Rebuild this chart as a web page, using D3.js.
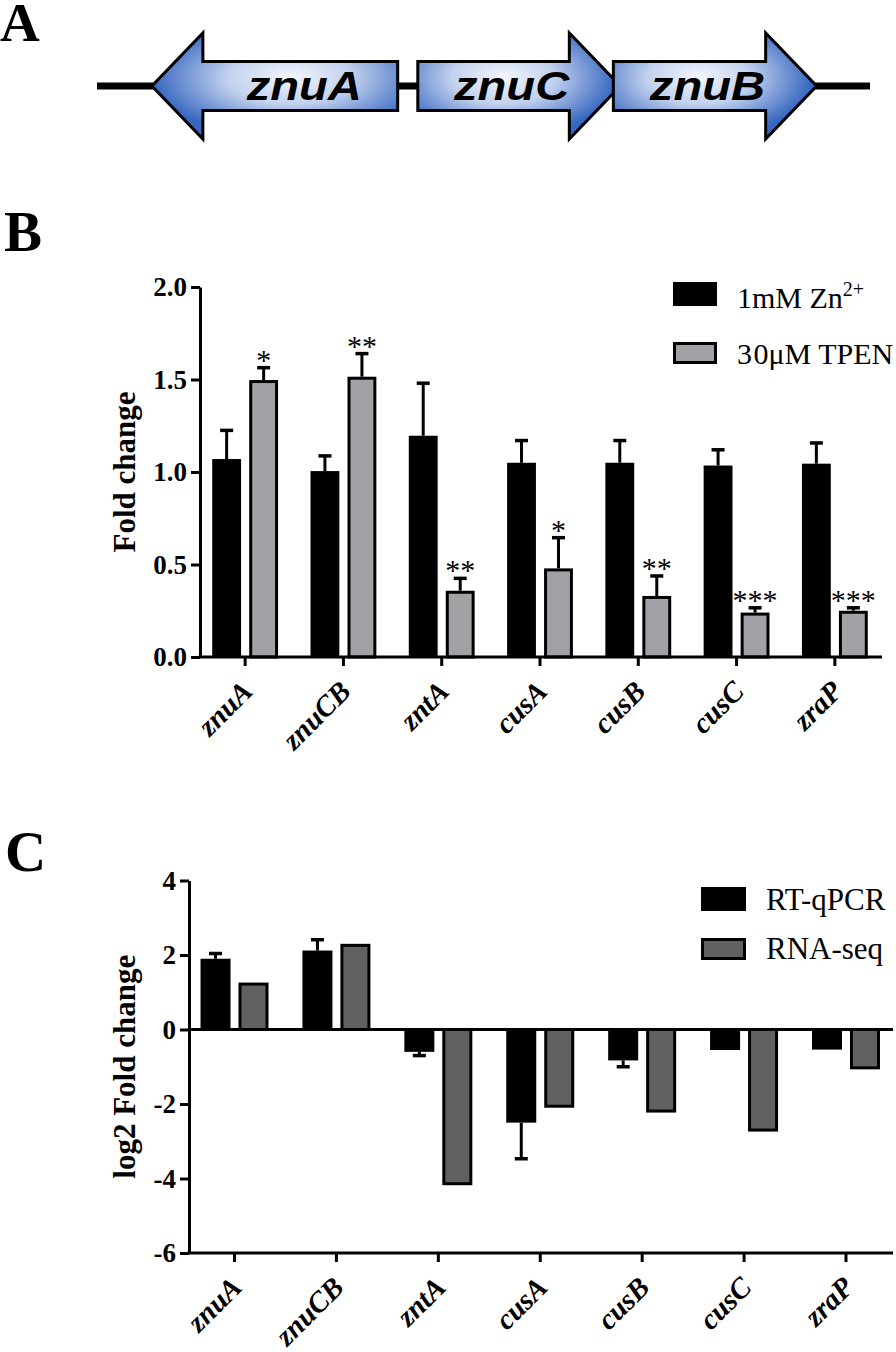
<!DOCTYPE html>
<html><head><meta charset="utf-8">
<script src="https://cdn.jsdelivr.net/npm/d3@7"></script>
<style>
body{margin:0;background:#fff;overflow:hidden}
svg{display:block}
</style>
</head><body>
<svg id="chart" width="896" height="1352"></svg>
<script>
// ---------- Panel A : gene organisation ----------
const geneNames  = ["znuA", "znuC", "znuB"];
const geneStart  = [71, 415, 668];     // locus units
const geneEnd    = [389, 677, 931];
const geneStrand = [-1, 1, 1];
const locusExtent = [0, 1000];

// ---------- Panel B : fold change ----------
const categories = ["znuA", "znuCB", "zntA", "cusA", "cusB", "cusC", "zraP"];
const znMean   = [1.07, 1.005, 1.196, 1.05, 1.05, 1.035, 1.045];
const znErr    = [0.155, 0.082, 0.284, 0.12, 0.12, 0.085, 0.112];
const tpenMean = [1.497, 1.515, 0.358, 0.479, 0.33, 0.24, 0.25];
const tpenErr  = [0.067, 0.125, 0.067, 0.166, 0.108, 0.026, 0.016];
const tpenSig  = ["*", "**", "**", "*", "**", "***", "***"];
const yTicksB  = [0, 0.5, 1.0, 1.5, 2.0];

// ---------- Panel C : log2 fold change ----------
const qpcrMean   = [1.9, 2.12, -0.6, -2.5, -0.83, -0.55, -0.54];
const qpcrErr    = [0.14, 0.29, 0.1, 0.97, 0.17, 0.0, 0.0];
const rnaseqMean = [1.26, 2.3, -4.18, -2.1, -2.23, -2.74, -1.07];
const yTicksC    = [4, 2, 0, -2, -4, -6];

const SERIF = '"Liberation Serif","Times New Roman",Times,serif';
const SANS  = '"Liberation Sans",Arial,Helvetica,sans-serif';
const GRAY_B = "#a2a2a6";
const GRAY_C = "#616161";

const svg = d3.select("#chart");
const defs = svg.append("defs");

// panel letters
[["A", 0, 41, 55], ["B", 4, 251, 57], ["C", 5, 871, 57]].forEach(([t, x, y, s]) => {
  svg.append("text").attr("x", x).attr("y", y).attr("font-family", SERIF)
    .attr("font-weight", "bold").attr("font-size", s).text(t);
});

// ================= Panel A =================
(function () {
  const xA = d3.scaleLinear().domain(locusExtent).range([97, 870]);
  const cy = 86, bodyH = 24.5, headH = 53, head = 51;
  svg.append("line").attr("x1", xA(locusExtent[0])).attr("x2", xA(locusExtent[1]))
    .attr("y1", cy).attr("y2", cy).attr("stroke", "#000").attr("stroke-width", 7);

  const genes = geneNames.map((n, i) => ({ name: n, s: geneStart[i], e: geneEnd[i], strand: geneStrand[i], i }));
  genes.forEach((g, i) => {
    const gr = defs.append("radialGradient").attr("id", "gg" + i)
      .attr("cx", g.strand < 0 ? 0.56 : 0.42).attr("cy", 0.42).attr("r", 0.56)
      .attr("fx", g.strand < 0 ? 0.56 : 0.42).attr("fy", 0.42);
    gr.append("stop").attr("offset", 0).attr("stop-color", "#f3f6fc");
    gr.append("stop").attr("offset", 0.45).attr("stop-color", "#c2d1ee");
    gr.append("stop").attr("offset", 1).attr("stop-color", "#3767c0");
  });

  const g = svg.append("g").selectAll("g").data(genes).join("g");
  g.append("path")
    .attr("d", d => {
      const a = xA(d.s), b = xA(d.e);
      if (d.strand > 0) {
        const hb = b - head;
        return `M${a},${cy - bodyH}L${hb},${cy - bodyH}L${hb},${cy - headH}L${b},${cy}L${hb},${cy + headH}L${hb},${cy + bodyH}L${a},${cy + bodyH}Z`;
      } else {
        const hb = a + head;
        return `M${b},${cy - bodyH}L${hb},${cy - bodyH}L${hb},${cy - headH}L${a},${cy}L${hb},${cy + headH}L${hb},${cy + bodyH}L${b},${cy + bodyH}Z`;
      }
    })
    .attr("fill", d => `url(#gg${d.i})`).attr("stroke", "#000").attr("stroke-width", 3)
    .attr("stroke-linejoin", "miter");
  g.append("text")
    .attr("transform", d => {
      const a = xA(d.s), b = xA(d.e);
      const bodyCenter = d.strand > 0 ? (a + b - head) / 2 : (a + head + b) / 2;
      const cx = bodyCenter + (d.strand > 0 ? 18 : 4);
      return `translate(${cx},${cy + 14}) scale(1.18,1)`;
    })
    .attr("text-anchor", "middle").attr("font-family", SANS).attr("font-weight", "bold")
    .attr("font-style", "italic").attr("font-size", 40).text(d => d.name);
})();

// ============ shared helpers ============
function drawErr(g, cx, y0, y1) {
  g.append("line").attr("x1", cx).attr("x2", cx).attr("y1", y0).attr("y2", y1)
    .attr("stroke", "#000").attr("stroke-width", 3);
  g.append("line").attr("x1", cx - 6.5).attr("x2", cx + 6.5).attr("y1", y1).attr("y2", y1)
    .attr("stroke", "#000").attr("stroke-width", 3.5);
}
function styleAxis(sel, size) {
  sel.selectAll("path,line").attr("stroke", "#000").attr("stroke-width", 3);
  sel.selectAll("text").attr("font-family", SERIF).attr("font-weight", "bold")
    .attr("font-size", size).attr("fill", "#000");
}
function catLabels(g, x, yAxis) {
  g.append("g").selectAll("text").data(categories).join("text")
    .attr("transform", d => `translate(${x(d) + x.bandwidth() / 2 + 9},${yAxis + 36}) rotate(-45)`)
    .attr("text-anchor", "end").attr("font-family", SERIF).attr("font-weight", "bold")
    .attr("font-style", "italic").attr("font-size", 29).text(d => d);
}

// ================= Panel B =================
(function () {
  const L = 200, R = 882, T = 287, Bt = 657;
  const x = d3.scaleBand().domain(categories).range([196, 884]).paddingInner(0.33).paddingOuter(0.165);
  const x1 = d3.scaleBand().domain([0, 1]).range([0, x.bandwidth()]).paddingInner(0.22);
  const y = d3.scaleLinear().domain([0, 2]).range([Bt, T]);
  const g = svg.append("g");

  const rows = categories.map((c, i) => ({ c, i }));
  g.selectAll(".zn").data(rows).join("rect")
    .attr("x", d => x(d.c) + x1(0)).attr("width", x1.bandwidth())
    .attr("y", d => y(znMean[d.i])).attr("height", d => y(0) - y(znMean[d.i])).attr("fill", "#000");
  g.selectAll(".tp").data(rows).join("rect")
    .attr("x", d => x(d.c) + x1(1) + 1.5).attr("width", x1.bandwidth() - 3)
    .attr("y", d => y(tpenMean[d.i]) + 1.5).attr("height", d => y(0) - y(tpenMean[d.i]) - 1.5)
    .attr("fill", GRAY_B).attr("stroke", "#000").attr("stroke-width", 3);
  rows.forEach(d => {
    const cx0 = x(d.c) + x1(0) + x1.bandwidth() / 2;
    const cx1 = x(d.c) + x1(1) + x1.bandwidth() / 2;
    drawErr(g, cx0, y(znMean[d.i]), y(znMean[d.i] + znErr[d.i]));
    drawErr(g, cx1, y(tpenMean[d.i]), y(tpenMean[d.i] + tpenErr[d.i]));
    g.append("text").attr("x", cx1).attr("y", y(tpenMean[d.i] + tpenErr[d.i]) + 2)
      .attr("text-anchor", "middle").attr("font-family", SERIF).attr("font-size", 30).text(tpenSig[d.i]);
  });

  const ya = g.append("g").attr("transform", `translate(${L},0)`)
    .call(d3.axisLeft(y).tickValues(yTicksB).tickFormat(d3.format(".1f")).tickSize(9).tickSizeOuter(0).tickPadding(4));
  styleAxis(ya, 27);
  const xa = g.append("g").attr("transform", `translate(0,${Bt})`)
    .call(d3.axisBottom(x).tickSize(9).tickSizeOuter(0).tickFormat(""));
  xa.select(".domain").remove();
  styleAxis(xa, 27);
  g.append("line").attr("x1", L - 1.5).attr("x2", R).attr("y1", Bt).attr("y2", Bt)
    .attr("stroke", "#000").attr("stroke-width", 3);
  catLabels(g, x, Bt);

  g.append("text").attr("transform", `translate(135,${(T + Bt) / 2}) rotate(-90)`)
    .attr("text-anchor", "middle").attr("font-family", SERIF).attr("font-weight", "bold")
    .attr("font-size", 31).text("Fold change");

  const lg = g.append("g");
  lg.append("rect").attr("x", 673).attr("y", 282).attr("width", 44).attr("height", 24).attr("fill", "#000");
  lg.append("rect").attr("x", 674.5).attr("y", 343.5).attr("width", 41).attr("height", 19)
    .attr("fill", GRAY_B).attr("stroke", "#000").attr("stroke-width", 3);
  const t1 = lg.append("text").attr("x", 737).attr("y", 308).attr("font-family", SERIF).attr("font-size", 30);
  t1.append("tspan").text("1mM Zn");
  t1.append("tspan").attr("font-size", 20).attr("dy", -12).text("2+");
  const t2 = lg.append("text").attr("x", 737).attr("y", 364).attr("font-family", SERIF).attr("font-size", 30);
  t2.append("tspan").text("3");
  t2.append("tspan").attr("dx", 1.5).text("0μM TPEN");
})();

// ================= Panel C =================
(function () {
  const L = 189, R = 893, T = 880.5, Bt = 1253;
  const x = d3.scaleBand().domain(categories).range([183.5, 897]).paddingInner(0.333).paddingOuter(0.167);
  const x1 = d3.scaleBand().domain([0, 1]).range([0, x.bandwidth()]).paddingInner(0.21);
  const y = d3.scaleLinear().domain([-6, 4]).range([Bt, T]);
  const g = svg.append("g");
  const rows = categories.map((c, i) => ({ c, i }));

  g.selectAll(".q").data(rows).join("rect")
    .attr("x", d => x(d.c) + x1(0)).attr("width", x1.bandwidth())
    .attr("y", d => y(Math.max(0, qpcrMean[d.i]))).attr("height", d => Math.abs(y(qpcrMean[d.i]) - y(0)))
    .attr("fill", "#000");
  g.selectAll(".r").data(rows).join("rect")
    .attr("x", d => x(d.c) + x1(1) + 1.5).attr("width", x1.bandwidth() - 3)
    .attr("y", d => y(Math.max(0, rnaseqMean[d.i])) + (rnaseqMean[d.i] > 0 ? 1.5 : 0))
    .attr("height", d => Math.abs(y(rnaseqMean[d.i]) - y(0)) - 1.5)
    .attr("fill", GRAY_C).attr("stroke", "#000").attr("stroke-width", 3);
  rows.forEach(d => {
    if (qpcrErr[d.i] > 0) {
      const cx0 = x(d.c) + x1(0) + x1.bandwidth() / 2;
      const v = qpcrMean[d.i], s = Math.sign(v);
      drawErr(g, cx0, y(v), y(v + s * qpcrErr[d.i]));
    }
  });

  const ya = g.append("g").attr("transform", `translate(${L},0)`)
    .call(d3.axisLeft(y).tickValues(yTicksC).tickFormat(d => String(d)).tickSize(9).tickSizeOuter(0).tickPadding(4));
  styleAxis(ya, 27);
  const xa = g.append("g").attr("transform", `translate(0,${Bt})`)
    .call(d3.axisBottom(x).tickSize(9).tickSizeOuter(0).tickFormat(""));
  xa.select(".domain").remove();
  styleAxis(xa, 27);
  g.append("line").attr("x1", L - 1.5).attr("x2", R).attr("y1", Bt).attr("y2", Bt)
    .attr("stroke", "#000").attr("stroke-width", 3);
  g.append("line").attr("x1", L).attr("x2", R).attr("y1", y(0)).attr("y2", y(0))
    .attr("stroke", "#000").attr("stroke-width", 3);
  catLabels(g, x, Bt);

  g.append("text").attr("transform", `translate(135,${(T + Bt) / 2}) rotate(-90)`)
    .attr("text-anchor", "middle").attr("font-family", SERIF).attr("font-weight", "bold")
    .attr("font-size", 31).text("log2 Fold change");

  const lg = g.append("g");
  lg.append("rect").attr("x", 701).attr("y", 887).attr("width", 45).attr("height", 24).attr("fill", "#000");
  lg.append("rect").attr("x", 702.5).attr("y", 939.5).attr("width", 42).attr("height", 19)
    .attr("fill", GRAY_C).attr("stroke", "#000").attr("stroke-width", 3);
  lg.append("text").attr("x", 766).attr("y", 910).attr("font-family", SERIF).attr("font-size", 31).text("RT-qPCR");
  lg.append("text").attr("x", 766).attr("y", 959).attr("font-family", SERIF).attr("font-size", 31).text("RNA-seq");
})();
</script>
</body></html>
